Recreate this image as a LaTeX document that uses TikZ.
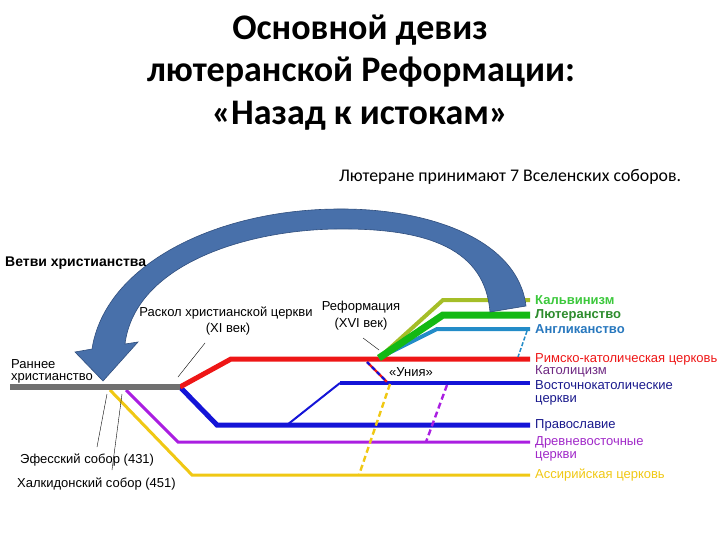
\documentclass[tikz,border=0pt]{standalone}
\usepackage{fontspec}
\setmainfont{Liberation Sans}
\newfontfamily\titlefont{Carlito}
\usepackage{xcolor}
\usetikzlibrary{arrows.meta,positioning}
\definecolor{branchgray}{RGB}{112,112,112}
\definecolor{catred}{RGB}{238,22,22}
\definecolor{orthblue}{RGB}{20,20,215}
\definecolor{orthtext}{RGB}{25,25,140}
\definecolor{oldpurple}{RGB}{170,30,225}
\definecolor{oldtext}{RGB}{160,40,200}
\definecolor{assyellow}{RGB}{240,200,20}
\definecolor{calvolive}{RGB}{165,190,40}
\definecolor{calvtext}{RGB}{60,200,60}
\definecolor{lutgreen}{RGB}{20,185,20}
\definecolor{luttext}{RGB}{45,140,45}
\definecolor{angblue}{RGB}{35,140,200}
\definecolor{angtext}{RGB}{40,120,190}
\definecolor{cattext}{RGB}{110,40,130}
\definecolor{arrowfill}{RGB}{72,112,170}
\definecolor{arrowdraw}{RGB}{48,78,125}

\begin{document}
\begin{tikzpicture}[x=1pt, y=-1pt,
      mybranch/.style={line width=#1, line join=miter},
      mylabel/.style={
         inner sep=0pt,
         font=\fontsize{13}{15}\selectfont},
      myboldlabel/.style={mylabel, font=\bfseries\fontsize{13}{15}\selectfont},
      mytitle/.style={anchor=base, font=\titlefont\bfseries\fontsize{36}{42}\selectfont},
      mycallout/.style={draw=black, line width=0.4pt},
      mydash/.style={line width=2.4pt, dash pattern=on 6pt off 3.5pt},
      node distance=0pt and 5pt
      ]
      \useasboundingbox (0,0) rectangle (720,540);

      \node[mytitle] (t1) at (360,40) {Основной девиз};
      \node[mytitle] (t2) at (361,82) {лютеранской Реформации:};
      \node[mytitle] (t3) at (360,125) {«Назад к истокам»};
      \node[font=\titlefont\fontsize{17.8}{20}\selectfont] (sub) at (510,177) {Лютеране принимают 7 Вселенских соборов.};

      % branch points
      \coordinate (g0) at (10,387);
      \coordinate (split) at (180,387);
      \coordinate (r1) at (231,359);
      \coordinate (rk) at (530,359);
      \coordinate (o1) at (217,425);
      \coordinate (ok) at (530,425);
      \coordinate (ob) at (287,425);
      \coordinate (v1) at (340,383);
      \coordinate (vk) at (530,383);
      \coordinate (d0) at (126,390);
      \coordinate (d1) at (178,442);
      \coordinate (dk) at (530,442);
      \coordinate (a0) at (110,390);
      \coordinate (a1) at (192,475);
      \coordinate (ak) at (530,475);
      \coordinate (ref) at (379,358);
      \coordinate (c1) at (443,300);
      \coordinate (ck) at (530,300);
      \coordinate (l1) at (443,315);
      \coordinate (lk) at (530,315);
      \coordinate (e1) at (437,329);
      \coordinate (ek) at (530,329);

    \foreach \i/\j/\k/\col/\w in {% start/bend/end/colour/width
      a0/a1/ak/assyellow/3pt,
      d0/d1/dk/oldpurple/3pt,
      split/o1/ok/orthblue/5pt,
      split/r1/rk/catred/5pt,
      ref/c1/ck/calvolive/4pt,
      ref/e1/ek/angblue/4pt,
      ref/l1/lk/lutgreen/7pt}
       \draw [mybranch=\w, draw=\col] (\i) -- (\j) -- (\k);

     \draw [mybranch=2pt, orthblue] (ob) -- (v1);
     \draw [mybranch=4.5pt, orthblue] (v1) -- (vk);
     \draw [mybranch=6pt, branchgray] (g0) -- (split);

      % dashed links
      \coordinate (e2) at (527,331);
      \coordinate (e3) at (518,357);
      \coordinate (u0) at (367,362);
      \coordinate (u1) at (387,382);
      \coordinate (y0) at (390,384);
      \coordinate (y1) at (359,475);
      \coordinate (q0) at (447,385);
      \coordinate (q1) at (426,442);
     \draw [angblue, line width=1.5pt, dash pattern=on 4pt off 2pt] (e2) -- (e3);
     \draw [catred, line width=2.4pt] (u0) -- (u1);
     \draw [mydash, orthblue, dash pattern=on 4pt off 3pt] (u0) -- (u1);
     \draw [mydash, assyellow] (y0) -- (y1);
     \draw [mydash, oldpurple] (q0) -- (q1);

      % callouts
      \coordinate (s0) at (178,377);
      \coordinate (s1) at (205,343);
      \coordinate (f0) at (363,338);
      \coordinate (f1) at (379,350);
      \coordinate (h0) at (107,394);
      \coordinate (h1) at (97,447);
      \coordinate (k0) at (122,394);
      \coordinate (k1) at (112,470);
    \foreach \i/\j in {s0/s1, f0/f1, h0/h1, k0/k1}
       \draw [mycallout] (\i) -- (\j);

     % big curved arrow
     \fill [arrowfill, draw=arrowdraw, line width=0.6pt]
        (526,306) .. controls (518,240) and (430,208) .. (337,209)
        .. controls (215,210) and (105,265) .. (92,349)
        -- (75,352) -- (103,381) -- (138,342) -- (125,344)
        .. controls (135,265) and (245,230) .. (337,229)
        .. controls (430,228) and (485,250) .. (490,312) -- cycle;

      \node[mylabel, anchor=west, font=\bfseries\fontsize{14}{16}\selectfont] (branches) at (5,263) {Ветви христианства};
      \node[mylabel, anchor=west] (early1) at (11,364) {Раннее};
      \node[mylabel, anchor=west] (early2) at (11,378) {христианство};
      \node[mylabel] (schism1) at (226,313) {Раскол христианской церкви};
      \node[mylabel] (schism2) at (228,329) {(XI век)};
      \node[mylabel] (reform1) at (361,307) {Реформация};
      \node[mylabel] (reform2) at (361,324) {(XVI век)};
      \node[mylabel] (union) at (411,372) {«Уния»};
      \node[mylabel, anchor=west] (ephes) at (20,460) {Эфесский собор (431)};
      \node[mylabel, anchor=west] (chalc) at (17,484) {Халкидонский собор (451)};

      \node[myboldlabel, right=of ck, text=calvtext] (calv) {Кальвинизм};
      \node[myboldlabel, right=of lk, text=luttext] (luth) {Лютеранство};
      \node[myboldlabel, right=of ek, text=angtext] (angl) {Англиканство};
      \node[mylabel, right=of rk, text=catred] (roman) {Римско-католическая церковь};
      \node[mylabel, anchor=west, text=cattext] (cath) at (535,371) {Католицизм};
      \node[mylabel, anchor=west, text=orthtext] (east1) at (535,385) {Восточнокатолические};
      \node[mylabel, anchor=west, text=orthtext] (east2) at (535,400) {церкви};
      \node[mylabel, right=of ok, text=orthtext] (orth) {Православие};
      \node[mylabel, right=of dk, text=oldtext] (old1) {Древневосточные};
      \node[mylabel, anchor=west, text=oldtext] (old2) at (535,456) {церкви};
      \node[mylabel, right=of ak, text=assyellow] (assyr) {Ассирийская церковь};
\end{tikzpicture}
\end{document}
